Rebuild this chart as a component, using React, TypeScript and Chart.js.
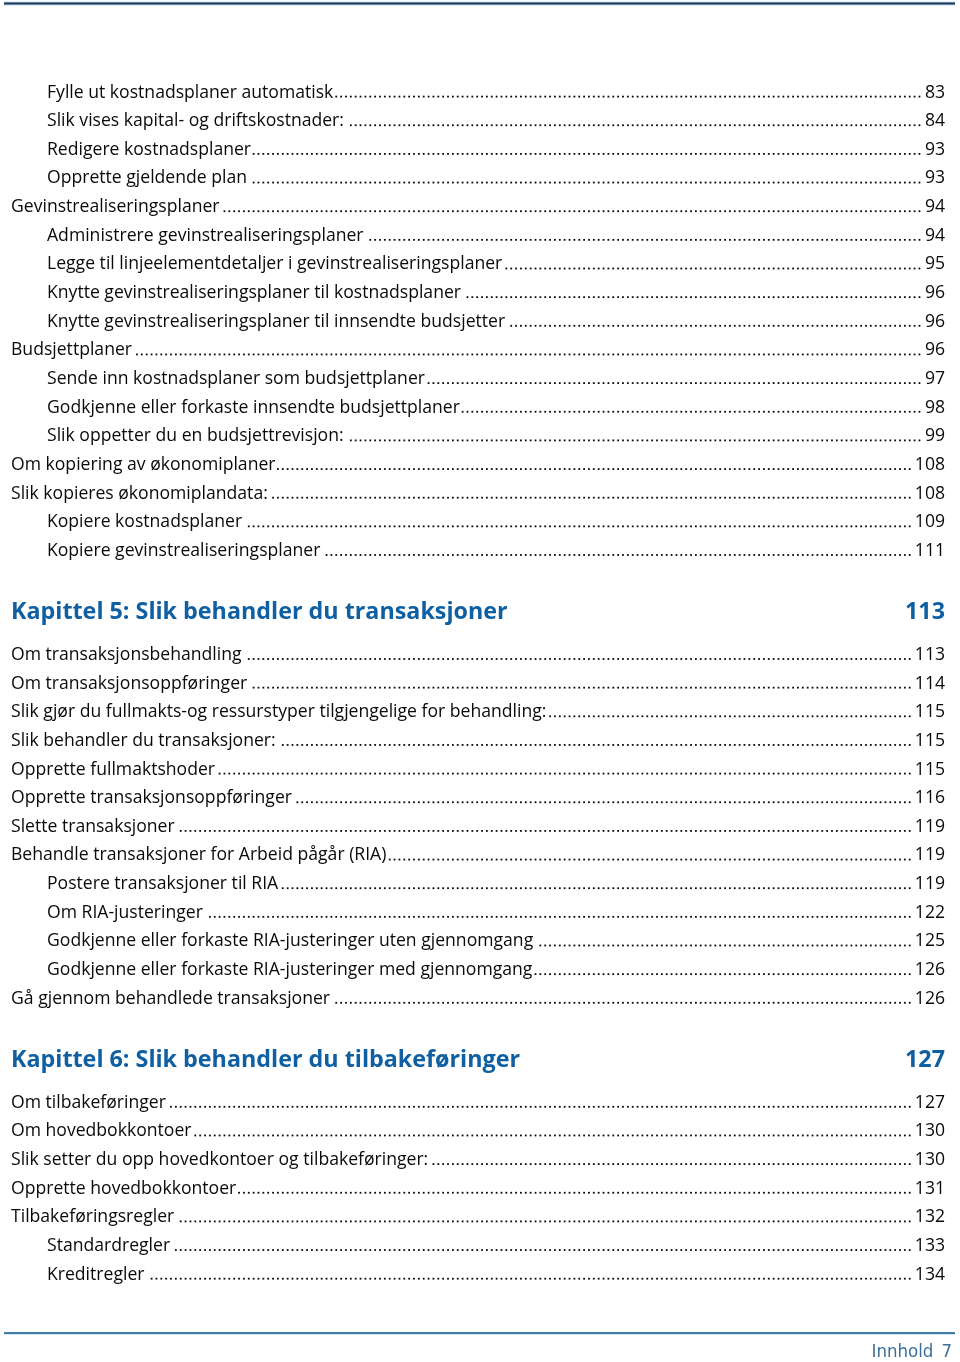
import React, { useEffect, useRef } from "react";
import { Chart, registerables } from "chart.js";

Chart.register(...registerables);

// ---- Data -----------------------------------------------------------------
const groupATitles = [
  "Fylle ut kostnadsplaner automatisk",
  "Slik vises kapital- og driftskostnader:",
  "Redigere kostnadsplaner",
  "Opprette gjeldende plan",
  "Gevinstrealiseringsplaner",
  "Administrere gevinstrealiseringsplaner",
  "Legge til linjeelementdetaljer i gevinstrealiseringsplaner",
  "Knytte gevinstrealiseringsplaner til kostnadsplaner",
  "Knytte gevinstrealiseringsplaner til innsendte budsjetter",
  "Budsjettplaner",
  "Sende inn kostnadsplaner som budsjettplaner",
  "Godkjenne eller forkaste innsendte budsjettplaner",
  "Slik oppetter du en budsjettrevisjon:",
  "Om kopiering av økonomiplaner",
  "Slik kopieres økonomiplandata:",
  "Kopiere kostnadsplaner",
  "Kopiere gevinstrealiseringsplaner",
];
const groupAPages = ["83", "84", "93", "93", "94", "94", "95", "96", "96", "96", "97", "98", "99", "108", "108", "109", "111"];
const groupALevels = [2, 2, 2, 2, 1, 2, 2, 2, 2, 1, 2, 2, 2, 1, 1, 2, 2];

const chapter5Title = "Kapittel 5: Slik behandler du transaksjoner";
const chapter5Page = "113";

const groupBTitles = [
  "Om transaksjonsbehandling",
  "Om transaksjonsoppføringer",
  "Slik gjør du fullmakts-og ressurstyper tilgjengelige for behandling:",
  "Slik behandler du transaksjoner:",
  "Opprette fullmaktshoder",
  "Opprette transaksjonsoppføringer",
  "Slette transaksjoner",
  "Behandle transaksjoner for Arbeid pågår (RIA)",
  "Postere transaksjoner til RIA",
  "Om RIA-justeringer",
  "Godkjenne eller forkaste RIA-justeringer uten gjennomgang",
  "Godkjenne eller forkaste RIA-justeringer med gjennomgang",
  "Gå gjennom behandlede transaksjoner",
];
const groupBPages = ["113", "114", "115", "115", "115", "116", "119", "119", "119", "122", "125", "126", "126"];
const groupBLevels = [1, 1, 1, 1, 1, 1, 1, 1, 2, 2, 2, 2, 1];

const chapter6Title = "Kapittel 6: Slik behandler du tilbakeføringer";
const chapter6Page = "127";

const groupCTitles = [
  "Om tilbakeføringer",
  "Om hovedbokkontoer",
  "Slik setter du opp hovedkontoer og tilbakeføringer:",
  "Opprette hovedbokkontoer",
  "Tilbakeføringsregler",
  "Standardregler",
  "Kreditregler",
];
const groupCPages = ["127", "130", "130", "131", "132", "133", "134"];
const groupCLevels = [1, 1, 1, 1, 1, 2, 2];

const footerLabel = "Innhold";
const footerPage = "7";

// ---- Layout / style constants ---------------------------------------------
const W = 960;
const H = 1362;
const BODY_FONT = '17.6px "Open Sans", "Noto Sans", sans-serif';
const HEAD_FONT = 'bold 23.3px "Open Sans", "Noto Sans", sans-serif';
const FOOT_FONT = '18.5px "Liberation Sans Narrow", "DejaVu Sans Condensed", "Liberation Sans", sans-serif';
const TEXT_COLOR = "#0a0a0a";
const HEAD_COLOR = "#0f5fa3";
const FOOT_COLOR = "#3d6f99";
const INDENT = { 1: 11, 2: 47 } as Record<number, number>;
const RIGHT_X = 945;
const FIRST_BASELINE = 97.5;
const ROW_STEP = 28.65;
const GAP_BEFORE_HEAD = 63;
const GAP_AFTER_HEAD = 41;
const DOT_STEP = 4.86;

const tocPlugin = {
  id: "tocPlugin",
  afterDraw(chart: any) {
    const ctx: CanvasRenderingContext2D = chart.ctx;
    const xs = chart.scales.x;
    const ys = chart.scales.y;
    const px = (v: number) => xs.getPixelForValue(v);
    const py = (v: number) => ys.getPixelForValue(v);

    ctx.save();
    ctx.fillStyle = "#ffffff";
    ctx.fillRect(0, 0, W, H);

    // top rule
    ctx.fillStyle = "#b9dcf3";
    ctx.fillRect(px(4), py(1.5), px(955) - px(4), 4);
    ctx.fillStyle = "#1f3552";
    ctx.fillRect(px(4), py(2.5), px(955) - px(4), 2);

    // bottom rule
    ctx.fillStyle = "#3f7dab";
    ctx.fillRect(px(4), py(1332), px(955) - px(4), 2.2);

    const drawEntry = (title: string, page: string, level: number, baseline: number) => {
      ctx.font = BODY_FONT;
      ctx.fillStyle = TEXT_COLOR;
      ctx.textBaseline = "alphabetic";
      ctx.textAlign = "left";
      const x0 = INDENT[level];
      ctx.fillText(title, px(x0), py(baseline));
      const tw = ctx.measureText(title).width;
      ctx.textAlign = "right";
      ctx.fillText(page, px(RIGHT_X), py(baseline));
      const pw = ctx.measureText(page).width;
      const dotEnd = RIGHT_X - pw - 2.5;
      const dotStart = x0 + tw + 1.5;
      const k = Math.ceil(dotStart / DOT_STEP);
      for (let x = k * DOT_STEP; x < dotEnd; x += DOT_STEP) {
        ctx.fillRect(px(x), py(baseline) - 1.8, 1.8, 1.8);
      }
    };

    const drawHead = (title: string, page: string, baseline: number) => {
      ctx.font = HEAD_FONT;
      ctx.fillStyle = HEAD_COLOR;
      ctx.textBaseline = "alphabetic";
      ctx.textAlign = "left";
      ctx.fillText(title, px(INDENT[1]), py(baseline));
      ctx.textAlign = "right";
      ctx.fillText(page, px(RIGHT_X), py(baseline));
    };

    let y = FIRST_BASELINE;
    groupATitles.forEach((t, i) => {
      drawEntry(t, groupAPages[i], groupALevels[i], y);
      y += ROW_STEP;
    });
    y += GAP_BEFORE_HEAD - ROW_STEP;
    drawHead(chapter5Title, chapter5Page, y);
    y += GAP_AFTER_HEAD;
    groupBTitles.forEach((t, i) => {
      drawEntry(t, groupBPages[i], groupBLevels[i], y);
      y += ROW_STEP;
    });
    y += GAP_BEFORE_HEAD - ROW_STEP;
    drawHead(chapter6Title, chapter6Page, y);
    y += GAP_AFTER_HEAD;
    groupCTitles.forEach((t, i) => {
      drawEntry(t, groupCPages[i], groupCLevels[i], y);
      y += ROW_STEP;
    });

    // footer
    ctx.font = FOOT_FONT;
    ctx.fillStyle = FOOT_COLOR;
    ctx.textAlign = "right";
    ctx.fillText(footerPage, px(952), py(1357));
    const w7 = ctx.measureText(footerPage).width;
    ctx.fillText(footerLabel, px(952 - w7 - 8), py(1357));
    ctx.restore();
  },
};

export default function App() {
  const ref = useRef<HTMLCanvasElement | null>(null);
  useEffect(() => {
    if (!ref.current) return;
    const chart = new Chart(ref.current, {
      type: "scatter",
      data: { datasets: [] },
      options: {
        animation: false,
        responsive: false,
        events: [],
        layout: { padding: 0 },
        plugins: { legend: { display: false }, tooltip: { enabled: false } },
        scales: {
          x: { type: "linear", min: 0, max: W, display: false },
          y: { type: "linear", min: 0, max: H, reverse: true, display: false },
        },
      },
      plugins: [tocPlugin],
    });
    return () => chart.destroy();
  }, []);
  return (
    <div style={{ position: "absolute", left: 0, top: 0, width: W, height: H, background: "#fff" }}>
      <canvas ref={ref} width={W} height={H} style={{ display: "block" }} />
    </div>
  );
}
